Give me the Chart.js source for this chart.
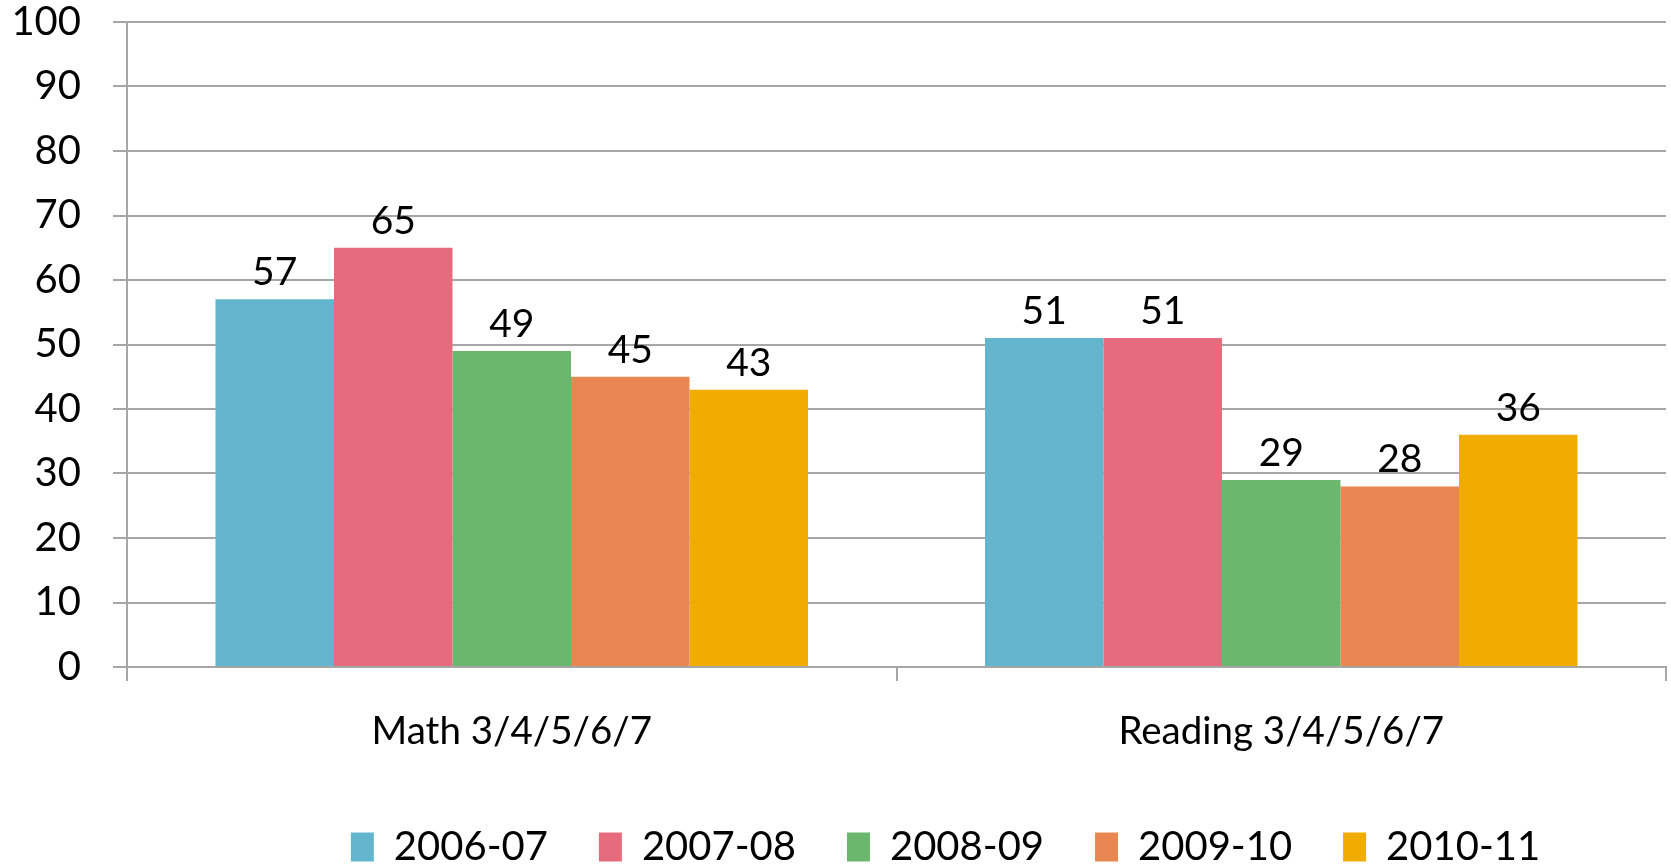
<!DOCTYPE html>
<html>
<head>
<meta charset="utf-8">
<script src="https://cdn.jsdelivr.net/npm/chart.js@4/dist/chart.umd.min.js"></script>
<style>
  html, body { margin: 0; padding: 0; background: #ffffff; }
  #wrap { width: 1671px; height: 865px; position: relative; }
</style>
</head>
<body>
<div id="wrap"><canvas id="c" width="1671" height="865"></canvas></div>
<script>
const categories = ["Math 3/4/5/6/7", "Reading 3/4/5/6/7"];
const seriesNames = ["2006-07", "2007-08", "2008-09", "2009-10", "2010-11"];
const values2006 = [57, 51];
const values2007 = [65, 51];
const values2008 = [49, 29];
const values2009 = [45, 28];
const values2010 = [43, 36];
const yTicks = [0, 10, 20, 30, 40, 50, 60, 70, 80, 90, 100];

const colors = ['#62B5CC', '#E66C7D', '#6BB76D', '#E88751', '#F0AD00'];
const allValues = [values2006, values2007, values2008, values2009, values2010];
const FONT = 'Lato, "Open Sans", "DejaVu Sans", sans-serif';

const datasets = seriesNames.map((name, i) => ({
  label: name,
  data: allValues[i],
  backgroundColor: colors[i],
  borderWidth: 0,
  categoryPercentage: 0.77,
  barPercentage: 1.0
}));

const valueLabels = {
  id: 'valueLabels',
  afterDatasetsDraw(chart) {
    const ctx = chart.ctx;
    ctx.save();
    ctx.fillStyle = '#000';
    ctx.font = '39px ' + FONT;
    ctx.textAlign = 'center';
    ctx.textBaseline = 'alphabetic';
    chart.data.datasets.forEach((ds, di) => {
      const meta = chart.getDatasetMeta(di);
      meta.data.forEach((bar, i) => {
        ctx.fillText(String(ds.data[i]), bar.x, bar.y - 14);
      });
    });
    ctx.restore();
  }
};

const legendShift = {
  id: 'legendShift',
  afterLayout(chart) {
    const lg = chart.legend;
    if (!lg) return;
    const dx = 106, dy = 12;
    lg.left += dx; lg.right += dx;
    lg.top += dy; lg.bottom += dy;
  }
};

new Chart(document.getElementById('c'), {
  type: 'bar',
  data: { labels: categories, datasets: datasets },
  plugins: [valueLabels, legendShift],
  options: {
    responsive: false,
    animation: false,
    layout: { padding: { left: 13, right: 5, top: 22, bottom: 0 } },
    plugins: {
      title: { display: false },
      tooltip: { enabled: false },
      legend: {
        position: 'bottom',
        labels: {
          color: '#000',
          font: { family: FONT, size: 40 },
          boxWidth: 23,
          boxHeight: 29,
          padding: 51
        }
      }
    },
    scales: {
      x: {
        afterFit(axis) {
          axis.paddingLeft = 0;
          axis.paddingRight = 0;
          axis.height = 97;
        },
        grid: {
          display: true,
          drawOnChartArea: false,
          drawTicks: true,
          tickLength: 14,
          color: '#a6a6a6',
          lineWidth: 2,
          offset: true
        },
        border: { display: true, color: '#a6a6a6', width: 2 },
        ticks: {
          color: '#000',
          font: { family: FONT, size: 38.5 },
          padding: 27
        }
      },
      y: {
        min: 0,
        max: 100,
        afterBuildTicks(axis) { axis.ticks = yTicks.map(v => ({ value: v })); },
        afterFit(axis) {
          axis.paddingTop = 0;
          axis.paddingBottom = 0;
          axis.width = 114;
        },
        grid: {
          color: '#a6a6a6',
          lineWidth: 2,
          drawTicks: true,
          tickLength: 14
        },
        border: { display: true, color: '#a6a6a6', width: 2 },
        ticks: {
          color: '#000',
          font: { family: FONT, size: 40 },
          padding: 32
        }
      }
    }
  }
});
</script>
</body>
</html>
